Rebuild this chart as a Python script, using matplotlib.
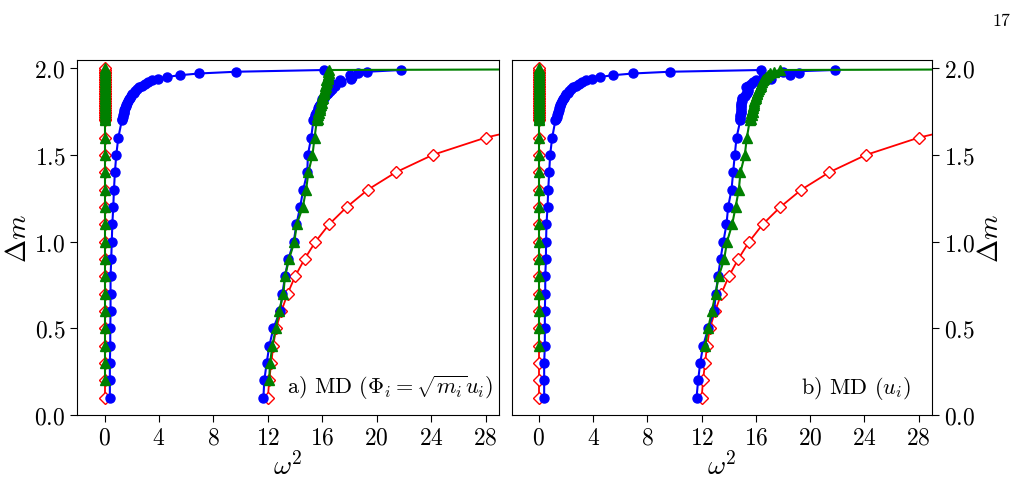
import matplotlib
matplotlib.use('Agg')
import matplotlib.pyplot as plt

plt.rcParams['font.family'] = 'cmr10'
plt.rcParams['mathtext.fontset'] = 'cm'
plt.rcParams['axes.formatter.use_mathtext'] = True

# mass defect values (coarse part and dense part near 2)
dm_low = [0.1, 0.2, 0.3, 0.4, 0.5, 0.6, 0.7, 0.8, 0.9, 1.0, 1.1, 1.2, 1.3, 1.4, 1.5, 1.6]
dm_high = [1.70, 1.71, 1.72, 1.73, 1.74, 1.75, 1.76, 1.77, 1.78, 1.79,
           1.80, 1.81, 1.82, 1.83, 1.84, 1.85, 1.86, 1.87, 1.88, 1.89,
           1.90, 1.91, 1.92, 1.93, 1.94, 1.95, 1.96, 1.97, 1.98, 1.99]
dm_top = [2.00]

# red: harmonic reference, same in both panels
red_zero_dm = dm_low + dm_high + dm_top
red_zero_w2 = [0.0] * len(red_zero_dm)
red_opt_dm = dm_low + [1.7, 1.8]
red_opt_w2 = [12.0, 12.1, 12.25, 12.4, 12.6, 13.0, 13.45, 14.0, 14.7, 15.5,
              16.5, 17.8, 19.35, 21.4, 24.1, 28.0, 33.5, 42.0]

# panel a) blue circles
blue_a_low_dm = dm_low + dm_high
blue_a_low_w2 = [0.39, 0.39, 0.39, 0.42, 0.42, 0.44, 0.44, 0.44, 0.49, 0.53,
                 0.57, 0.64, 0.69, 0.76, 0.86, 1.01,
                 1.27, 1.30, 1.34, 1.38, 1.41, 1.44, 1.46, 1.50, 1.56, 1.61,
                 1.66, 1.71, 1.78, 1.85, 1.93, 2.02, 2.13, 2.25, 2.39, 2.55,
                 2.74, 2.95, 3.19, 3.50, 3.93, 4.59, 5.53, 6.95, 9.65, 16.1]
blue_a_opt_dm = dm_low + dm_high
blue_a_opt_w2 = [11.67, 11.74, 11.91, 12.11, 12.4, 12.9, 13.07, 13.26, 13.51, 13.9,
                 14.1, 14.37, 14.6, 14.9, 14.94, 15.18,
                 15.35, 15.4, 15.45, 15.5, 15.55, 15.6, 15.65, 15.7, 15.75, 15.8,
                 15.9, 15.95, 16.0, 16.1, 16.2, 16.35, 16.45, 16.55, 16.7, 16.6,
                 16.9, 16.8, 17.4, 17.3, 18.1, 18.2, 18.0, 18.6, 19.3, 21.8]

# panel a) green triangles
green_a_zero_dm = dm_low[1:] + dm_high + dm_top
green_a_zero_w2 = [0.0] * len(green_a_zero_dm)
green_a_opt_dm = dm_low[1:] + dm_high + dm_top
green_a_opt_w2 = [12.09, 12.16, 12.33, 12.58, 12.82, 13.14, 13.26, 13.56, 13.95,
                  14.12, 14.57, 14.81, 14.98, 15.28, 15.43,
                  15.6, 15.65, 15.6, 15.7, 15.75, 15.7, 15.8, 15.85, 15.8, 15.9,
                  15.95, 15.9, 16.0, 16.05, 16.0, 16.1, 16.15, 16.1, 16.2, 16.25,
                  16.2, 16.3, 16.35, 16.3, 16.4, 16.45, 16.4, 16.5, 16.45, 16.5,
                  60.0]

# panel b) blue circles
blue_b_low_dm = dm_low + dm_high
blue_b_low_w2 = [0.39, 0.39, 0.39, 0.44, 0.44, 0.44, 0.47, 0.47, 0.52, 0.53,
                 0.56, 0.64, 0.69, 0.76, 0.83, 0.98,
                 1.22, 1.27, 1.31, 1.35, 1.39, 1.42, 1.45, 1.49, 1.54, 1.59,
                 1.64, 1.70, 1.77, 1.84, 1.92, 2.01, 2.12, 2.24, 2.38, 2.54,
                 2.73, 2.94, 3.18, 3.48, 3.92, 4.5, 5.48, 6.95, 9.65, 16.36]
blue_b_opt_dm = dm_low + dm_high
blue_b_opt_w2 = [11.62, 11.74, 11.89, 12.11, 12.48, 12.92, 13.04, 13.21, 13.39, 13.6,
                 13.83, 13.95, 14.2, 14.32, 14.44, 14.57,
                 14.85, 14.85, 14.86, 14.86, 14.87, 14.88, 14.88, 14.89, 14.9, 14.9,
                 14.92, 14.95, 14.98, 15.0, 15.2, 15.3, 15.35, 15.4, 15.45, 15.3,
                 15.45, 15.6, 15.75, 16.0, 17.1, 16.5, 18.5, 19.2, 18.0, 21.8]

# panel b) green triangles
green_b_zero_dm = dm_low[3:] + dm_high + dm_top
green_b_zero_w2 = [0.0] * len(green_b_zero_dm)
green_b_opt_dm = dm_low[3:] + dm_high + dm_top
green_b_opt_w2 = [12.26, 12.48, 12.75, 13.02, 13.26, 13.66, 13.87, 14.25, 14.5,
                  14.74, 14.86, 15.18, 15.33,
                  15.55, 15.6, 15.58, 15.68, 15.65, 15.75, 15.72, 15.8, 15.78, 15.85,
                  15.88, 15.85, 15.95, 15.97, 16.0, 16.08, 16.05, 16.16, 16.2, 16.28,
                  16.35, 16.4, 16.45, 16.5, 16.6, 16.75, 16.9, 17.05, 17.3, 17.75,
                  60.0]

panels = [
    (blue_a_low_w2, blue_a_low_dm, blue_a_opt_w2, blue_a_opt_dm,
     green_a_zero_w2, green_a_zero_dm, green_a_opt_w2, green_a_opt_dm,
     r'a) MD ($\Phi_i=\sqrt{m_i}u_i$)', 0.986),
    (blue_b_low_w2, blue_b_low_dm, blue_b_opt_w2, blue_b_opt_dm,
     green_b_zero_w2, green_b_zero_dm, green_b_opt_w2, green_b_opt_dm,
     r'b) MD ($u_i$)', 0.948),
]

fig = plt.figure(figsize=(10.19, 4.81), dpi=100)
ax1 = fig.add_axes([0.0759, 0.135, 0.414, 0.739])
ax2 = fig.add_axes([0.5022, 0.135, 0.4127, 0.739])

for ax, p in zip([ax1, ax2], panels):
    bx1, by1, bx2, by2, gx1, gy1, gx2, gy2, label, lx = p
    # red reference curves
    for xs, ys in [(red_zero_w2, red_zero_dm), (red_opt_w2, red_opt_dm)]:
        ax.plot(xs, ys, color='red', lw=1.3, marker='D', ms=6,
                mfc='white', mec='red', mew=1.0, zorder=2)
    # blue circles
    for xs, ys in [(bx1, by1), (bx2, by2)]:
        ax.plot(xs, ys, color='blue', lw=1.5, marker='o', ms=6.5, zorder=3)
    # green triangles
    for xs, ys in [(gx1, gy1), (gx2, gy2)]:
        ax.plot(xs, ys, color='green', lw=1.5, marker='^', ms=7.5, zorder=4)

    ax.set_xlim(-2, 29)
    ax.set_ylim(0, 2.05)
    ax.set_xticks([0, 4, 8, 12, 16, 20, 24, 28])
    ax.set_yticks([0.0, 0.5, 1.0, 1.5, 2.0])
    ax.tick_params(labelsize=17, length=5, direction='out')
    ax.set_xlabel(r'$\omega^2$', fontsize=20, labelpad=2)
    ax.set_ylabel(r'$\Delta m$', fontsize=20, labelpad=2)
    ax.text(lx, 0.04, label, transform=ax.transAxes, ha='right',
            va='bottom', fontsize=16)

ax2.yaxis.tick_right()
ax2.yaxis.set_label_position('right')

fig.text(0.992, 0.955, '17', ha='right', va='center', fontsize=13)

fig.savefig('out.png', dpi=100)
